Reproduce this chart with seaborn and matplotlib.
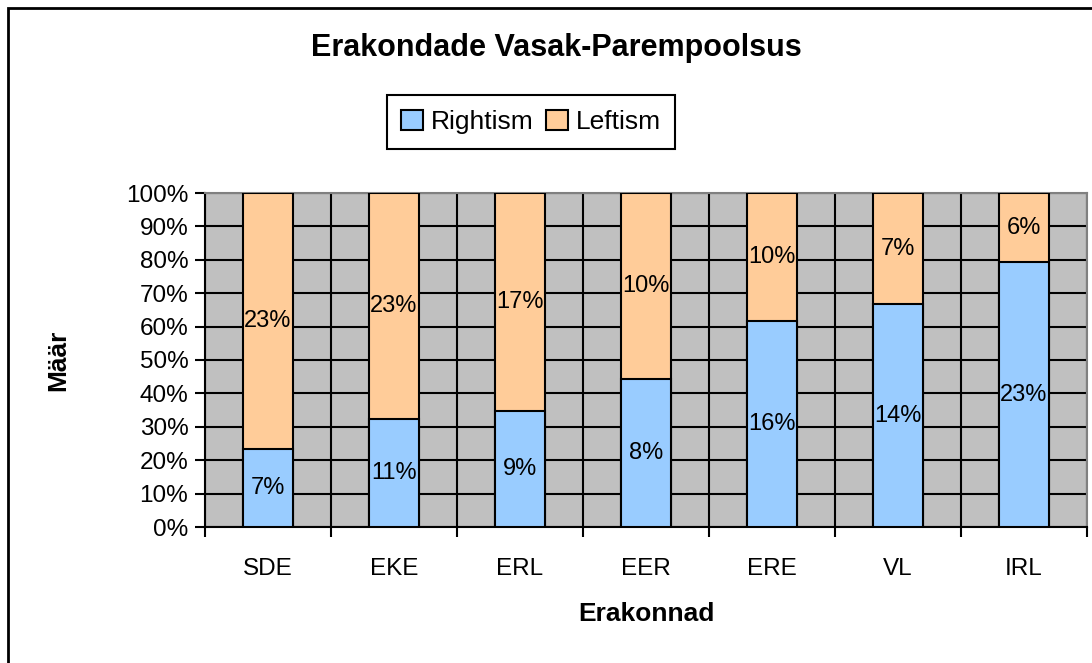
import numpy as np
import pandas as pd
import seaborn as sns
import matplotlib.pyplot as plt
from matplotlib.patches import Rectangle, Patch
from matplotlib.ticker import FixedLocator, PercentFormatter

parties = ['SDE', 'EKE', 'ERL', 'EER', 'ERE', 'VL', 'IRL']
rightism = [7, 11, 9, 8, 16, 14, 23]   # raw label values (%)
leftism = [23, 23, 17, 10, 10, 7, 6]

df = pd.DataFrame({'party': parties, 'Rightism': rightism, 'Leftism': leftism})
df['total'] = df['Rightism'] + df['Leftism']
df['right_share'] = df['Rightism'] / df['total'] * 100
df['full'] = 100.0

sns.set_theme(style='white')
plt.rcParams['font.family'] = ['Liberation Sans', 'DejaVu Sans']
plt.rcParams['text.color'] = 'black'
plt.rcParams['axes.labelcolor'] = 'black'
plt.rcParams['xtick.color'] = 'black'
plt.rcParams['ytick.color'] = 'black'

blue = '#99ccff'
orange = '#ffcc99'
gray = '#c0c0c0'

fig = plt.figure(figsize=(10.92, 6.63), dpi=100)
fig.patch.set_facecolor('white')
ax = fig.add_axes([205/1092, 1-527/663, (1087-205)/1092, (527-193)/663])
ax.set_facecolor(gray)

# stacked 100% bars: orange full bar, blue share on top of it
sns.barplot(data=df, x='party', y='full', color=orange, width=0.4,
            edgecolor='black', linewidth=1.5, saturation=1, ax=ax, zorder=3)
sns.barplot(data=df, x='party', y='right_share', color=blue, width=0.4,
            edgecolor='black', linewidth=1.5, saturation=1, ax=ax, zorder=4)

for i, row in df.iterrows():
    ax.text(i, row['right_share'] / 2, f"{row['Rightism']}%", ha='center', va='center',
            fontsize=17, color='black', zorder=5)
    ax.text(i, (row['right_share'] + 100) / 2, f"{row['Leftism']}%", ha='center', va='center',
            fontsize=17, color='black', zorder=5)

ax.set_xlim(-0.5, len(parties) - 0.5)
ax.set_ylim(0, 100)
ax.yaxis.set_major_locator(FixedLocator(np.arange(0, 101, 10)))
ax.yaxis.set_major_formatter(PercentFormatter(decimals=0))
ax.xaxis.set_minor_locator(FixedLocator(np.arange(-0.5, len(parties), 1)))

ax.set_axisbelow(True)
ax.grid(True, axis='y', which='major', color='black', linewidth=1.5, zorder=1)
ax.grid(True, axis='x', which='minor', color='black', linewidth=1.5, zorder=1)
ax.grid(False, axis='x', which='major')

ax.tick_params(axis='y', which='major', direction='out', length=7, width=1.5, color='black',
               labelsize=17.5, pad=5, left=True)
ax.tick_params(axis='x', which='major', length=0, labelsize=17.5, pad=22)
ax.tick_params(axis='x', which='minor', direction='out', length=7, width=1.5, color='black', bottom=True)

for side in ['top', 'right']:
    ax.spines[side].set_color('#808080')
    ax.spines[side].set_linewidth(1.5)
for side in ['left', 'bottom']:
    ax.spines[side].set_color('black')
    ax.spines[side].set_linewidth(1.5)

ax.set_xlabel('Erakonnad', fontsize=19, fontweight='bold', labelpad=16)
ax.set_ylabel('Määr', fontsize=19, fontweight='bold', labelpad=40)

fig.text(556/1092, 1-48/663, 'Erakondade Vasak-Parempoolsus', ha='center', va='center',
         fontsize=22, fontweight='bold')

handles = [Patch(facecolor=blue, edgecolor='black', linewidth=1.5, label='Rightism'),
           Patch(facecolor=orange, edgecolor='black', linewidth=1.5, label='Leftism')]
leg = fig.legend(handles=handles, loc='center', bbox_to_anchor=(531/1092, 1-122/663), ncol=2,
                 fontsize=19, frameon=True, fancybox=False, framealpha=1, handlelength=0.8,
                 handleheight=0.8, handletextpad=0.3, columnspacing=0.5, borderpad=0.55)
leg.get_frame().set_edgecolor('black')
leg.get_frame().set_linewidth(1.5)

# outer chart area border
fig.patches.append(Rectangle((8/1092, -0.1), 1.2, 1.1 - 8/663, transform=fig.transFigure,
                             fill=False, edgecolor='black', linewidth=2, zorder=0))

fig.savefig('out.png', dpi=100)
